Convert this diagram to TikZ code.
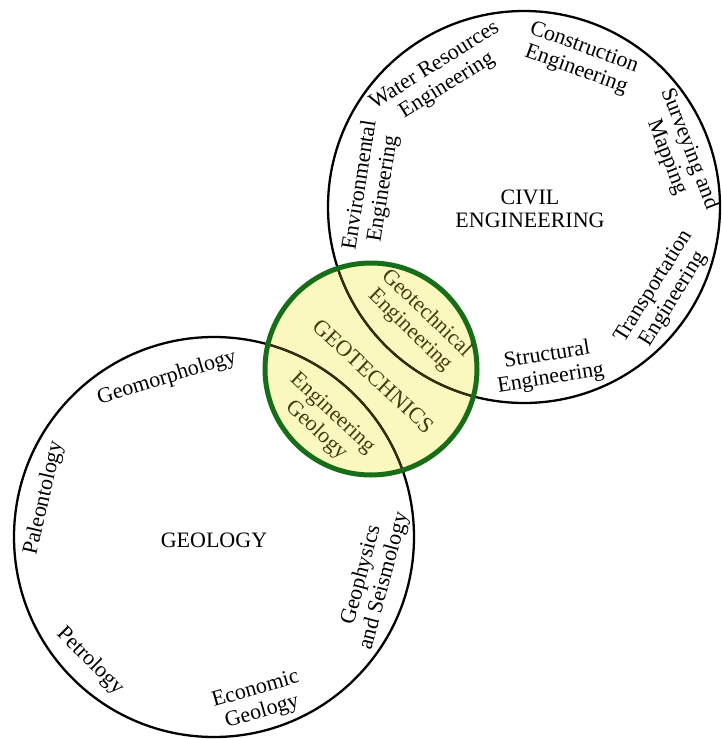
\documentclass[tikz,border=0pt]{standalone}
\usepackage{fontspec}
\setmainfont{Liberation Serif}
\definecolor{geofill}{RGB}{250,248,190}
\definecolor{geogreen}{RGB}{24,110,24}
\definecolor{geotext}{RGB}{68,62,16}
\definecolor{arcolive}{RGB}{50,50,10}
\begin{document}
\begin{tikzpicture}[x=1pt,y=-1pt,
  ring/.style={circle,draw=black,line width=2.3pt,inner sep=0pt,outer sep=0pt},
  lbl/.style={align=center,inner sep=0pt,font=\fontsize{22}{23.5}\selectfont},
  glbl/.style={lbl,text=geotext},
  title/.style={align=center,inner sep=0pt,font=\fontsize{22}{23}\selectfont}]
\useasboundingbox[fill=white] (0,0) rectangle (722,739);
% fill of geotechnics
\fill[geofill] (371,369) circle[radius=106pt];
% main circles
\node[ring,minimum size=392pt] (civilc) at (524,207) {};
\node[ring,minimum size=400pt] (geolc) at (214,537) {};
% arcs inside geotechnics
\begin{scope}
\clip (371,369) circle[radius=106pt];
\draw[arcolive,line width=2pt] (524,207) circle[radius=196pt];
\draw[arcolive,line width=2pt] (214,537) circle[radius=200pt];
\end{scope}
\node[circle,draw=geogreen,line width=5pt,minimum size=212pt,inner sep=0pt] (geotc) at (371,369) {};
% civil engineering labels
\node[lbl,rotate=81] (env) at (372,187) {Environmental\\Engineering};
\node[lbl,rotate=32] (water) at (441,76) {Water Resources\\Engineering};
\node[lbl,rotate=-20] (constr) at (580,59) {Construction\\Engineering};
\node[lbl,rotate=-69] (survey) at (678,153) {Surveying and\\Mapping};
\node[lbl,rotate=58] (transp) at (664,293) {Transportation\\Engineering};
\node[lbl,rotate=9] (struct) at (549,367) {Structural\\Engineering};
\node[title] (civil) at (530,209) {CIVIL\\ENGINEERING};
% geology labels
\node[lbl,rotate=17] (geomorph) at (167,378) {Geomorphology};
\node[lbl,rotate=77] (paleo) at (44,498) {Paleontology};
\node[lbl,rotate=-45] (petro) at (90,661) {Petrology};
\node[lbl,rotate=16] (econ) at (259,701) {Economic\\Geology};
\node[lbl,rotate=75] (geophys) at (373,578) {Geophysics\\and Seismology};
\node[title] (geology) at (214,540) {GEOLOGY};
% geotechnics labels
\node[glbl,rotate=-43,font=\fontsize{22.5}{24}\selectfont] (geotech) at (374,376) {GEOTECHNICS};
\node[glbl,rotate=-44] (gteng) at (418,322) {Geotechnical\\Engineering};
\node[glbl,rotate=-43] (enggeo) at (324,422) {Engineering\\Geology};
\end{tikzpicture}
\end{document}
